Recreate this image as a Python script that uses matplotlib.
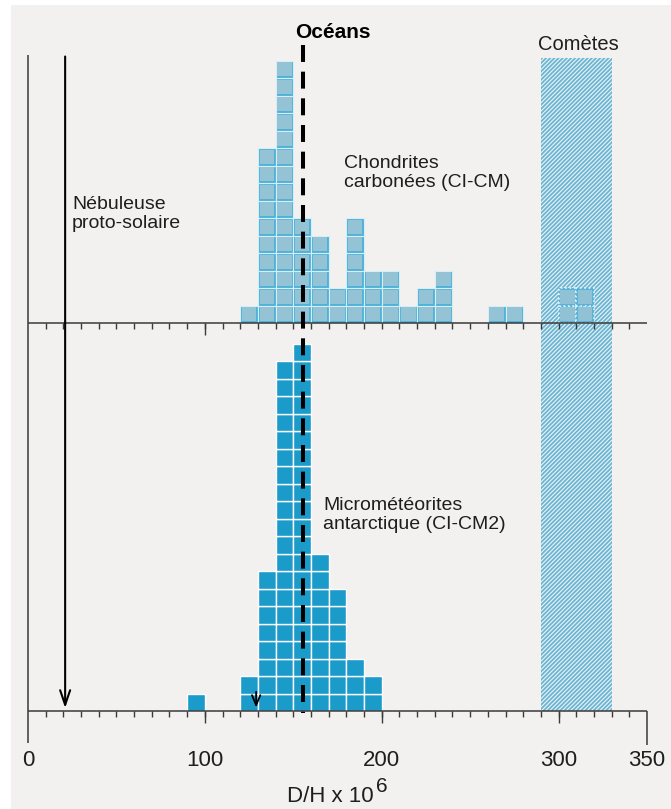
import numpy as np
import matplotlib.pyplot as plt
from matplotlib.patches import Rectangle

plt.rcParams['font.family'] = ['Liberation Sans', 'DejaVu Sans']
plt.rcParams['hatch.linewidth'] = 1.3

# D/H x 10^6, bins of 10, one square = one sample
chondrite_bins = [120, 130, 140, 150, 160, 170, 180, 190, 200, 210, 220, 230, 260, 270]
chondrite_counts = [1, 10, 15, 6, 5, 2, 6, 3, 3, 1, 2, 3, 1, 1]
comet_chondrite_bins = [300, 310]
comet_chondrite_counts = [2, 2]
micro_bins = [90, 120, 130, 140, 150, 160, 170, 180, 190]
micro_counts = [1, 2, 8, 20, 21, 9, 7, 3, 2]

ocean_dh = 155.7
nebula_dh = 21
micro_mark = 129
comet_range = (290, 330)
tick_values = [0, 100, 200, 300, 350]

BG = '#f2f1ef'
AXC = '#3a3a3a'
TXT = '#1e1e1e'
TOP = 22.17  # baseline of upper panel, in square units
W = 10

fig = plt.figure(figsize=(6.71, 8.09), dpi=100)
ax = fig.add_axes([0, 0, 1, 1])
ax.axis('off')
ax.add_patch(Rectangle((11 / 671, 0), 1, 804 / 809, transform=ax.transAxes,
                       facecolor=BG, edgecolor='none', zorder=-10))

# comets band
ax.add_patch(Rectangle((comet_range[0], 0), comet_range[1] - comet_range[0], 37.3,
                       facecolor='#eaf3f6', edgecolor='#6cb5d2', hatch='////////',
                       lw=0, zorder=1))


def stack(bins, counts, base, face, edge, lw, ls='-', inner=None):
    bins = np.asarray(bins)
    counts = np.asarray(counts)
    for k in range(counts.max()):
        sel = counts > k
        ax.bar(bins[sel], 1, width=W, bottom=base + k, align='edge',
               color=face, edgecolor=edge, linewidth=lw, linestyle=ls, zorder=3)
        if inner is not None:
            ax.bar(bins[sel] + 0.9, 1 - 0.18, width=W - 1.8, bottom=base + k + 0.09,
                   align='edge', color=inner, linewidth=0, zorder=3.5)


stack(chondrite_bins, chondrite_counts, TOP, '#4fb2d8', '#d8eef5', 0.8, inner='#93c3d5')
stack(comet_chondrite_bins, comet_chondrite_counts, TOP, '#58b3d6', '#e6f3f7', 1.2,
      ls=':', inner='#90c1d4')
stack(micro_bins, micro_counts, 0, '#1a9bca', 'white', 1.0)

# axes lines and ticks
minor = np.arange(10, 350, 10)
for base in (TOP, 0):
    ax.plot([0, 350], [base, base], color=AXC, lw=1.1, zorder=6, solid_capstyle='butt')
    ax.vlines(minor, base - 0.34, base, color=AXC, lw=1.0, zorder=6)
ax.vlines(100, TOP - 0.69, TOP, color=AXC, lw=1.0, zorder=6)
ax.vlines([100, 200, 300], -0.69, 0, color=AXC, lw=1.0, zorder=6)
ax.vlines(350, -1.95, 0, color=AXC, lw=1.1, zorder=6)
ax.vlines(0, -1.85, 37.5, color=AXC, lw=1.1, zorder=6)

for v in tick_values:
    ax.text(v, -2.8, str(v), ha='center', va='center', fontsize=16, color=TXT)
ax.text(195.6, -4.86, 'D/H x 10', ha='right', va='center', fontsize=16, color=TXT)
ax.text(196.8, -4.3, '6', ha='left', va='center', fontsize=15, color=TXT)

# oceans
ax.plot([ocean_dh, ocean_dh], [38.05, -0.1], color='black', lw=2.9,
        dashes=(12.2 / 2.9, 7.0 / 2.9), dash_capstyle='butt', zorder=7)
ax.text(151, 38.8, 'Océans', ha='left', va='center', fontsize=15,
        fontweight='bold', color='black')

# proto-solar nebula arrow and micrometeorite mark
ax.annotate('', xy=(nebula_dh, 0.17), xytext=(nebula_dh, 37.4),
            arrowprops=dict(arrowstyle='->,head_length=1.05,head_width=0.36',
                            color='black', lw=1.5, shrinkA=0, shrinkB=0,
                            mutation_scale=10), zorder=8)
ax.annotate('', xy=(micro_mark, 0.2), xytext=(micro_mark, 1.1),
            arrowprops=dict(arrowstyle='->,head_length=0.72,head_width=0.3',
                            color='black', lw=1.3, shrinkA=0, shrinkB=0,
                            mutation_scale=10), zorder=8)

ax.text(311, 38.06, 'Comètes', ha='center', va='center', fontsize=14.5, color=TXT)
ax.text(178.7, 30.74, 'Chondrites\ncarbonées (CI-CM)', ha='left', va='center',
        fontsize=14, color=TXT, linespacing=1.1)
ax.text(24.9, 28.4, 'Nébuleuse\nproto-solaire', ha='left', va='center',
        fontsize=14, color=TXT, linespacing=1.1)
ax.text(166.8, 11.2, 'Micrométéorites\nantarctique (CI-CM2)', ha='left', va='center',
        fontsize=14, color=TXT, linespacing=1.1)

ax.set_xlim(-28 / 1.7686, 643 / 1.7686)
ax.set_ylim(-98 / 17.5, 711 / 17.5)

fig.savefig('out.png', dpi=100, facecolor='white')
